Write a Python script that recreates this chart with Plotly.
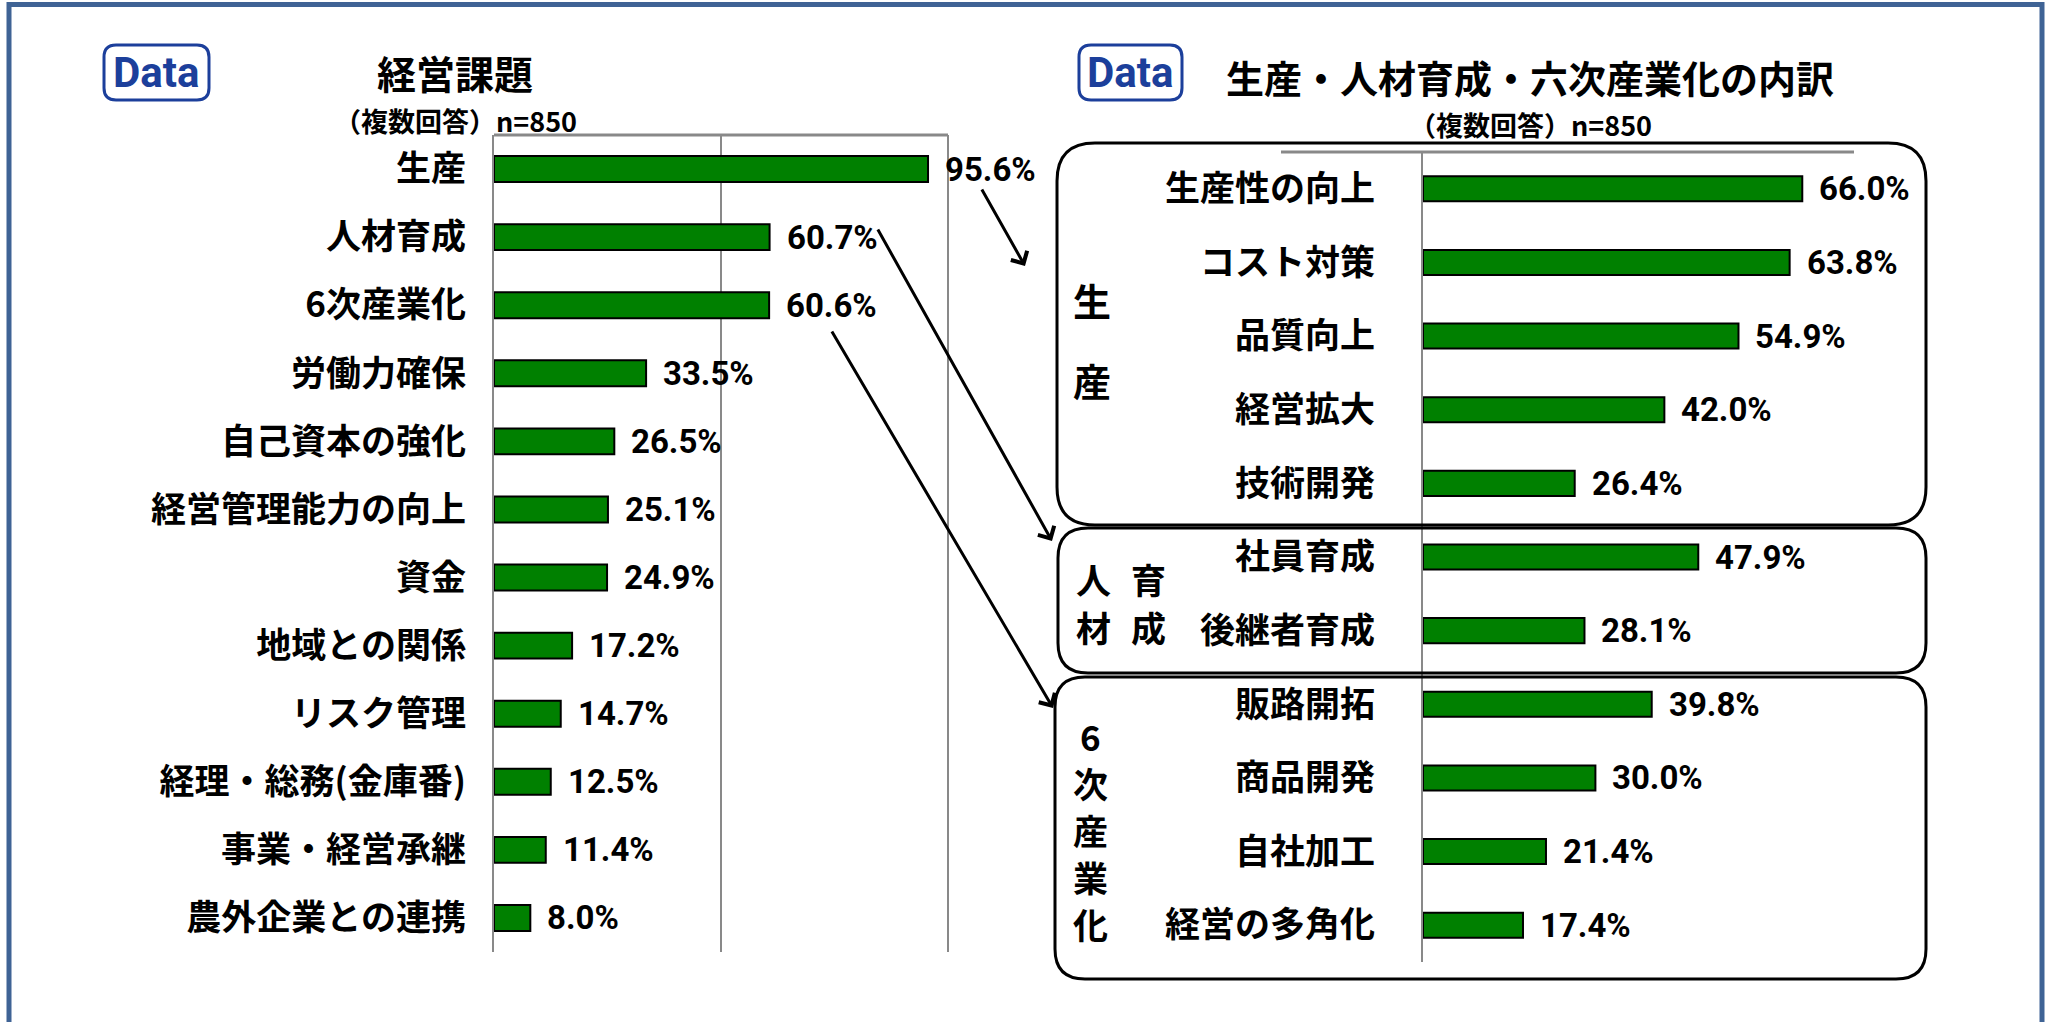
import plotly.graph_objects as go

W, H = 2047, 1022

# ---------------- data ----------------
left_categories = ["生産", "人材育成", "6次産業化", "労働力確保", "自己資本の強化",
                   "経営管理能力の向上", "資金", "地域との関係", "リスク管理",
                   "経理・総務(金庫番)", "事業・経営承継", "農外企業との連携"]
left_values = [95.6, 60.7, 60.6, 33.5, 26.5, 25.1, 24.9, 17.2, 14.7, 12.5, 11.4, 8.0]

right_categories = ["生産性の向上", "コスト対策", "品質向上", "経営拡大", "技術開発",
                    "社員育成", "後継者育成",
                    "販路開拓", "商品開発", "自社加工", "経営の多角化"]
right_values = [66.0, 63.8, 54.9, 42.0, 26.4, 47.9, 28.1, 39.8, 30.0, 21.4, 17.4]

left_title = "経営課題"
right_title = "生産・人材育成・六次産業化の内訳"
subtitle = "（複数回答）n=850"

# ---------------- helpers ----------------
def X(px):
    return px / W

def Y(py):
    return 1 - py / H

JP = "Noto Sans CJK JP"
NUM = "Roboto, sans-serif"
GREEN = "#008000"
GRID = "#898989"
BLUE = "#1C3F9B"
FRAME = "#3F6395"

def rrect_path(x0, y0, x1, y1, r):
    def p(x, y):
        return f"{X(x):.5f},{Y(y):.5f}"
    return (f"M {p(x0 + r, y0)} L {p(x1 - r, y0)} Q {p(x1, y0)} {p(x1, y0 + r)} "
            f"L {p(x1, y1 - r)} Q {p(x1, y1)} {p(x1 - r, y1)} "
            f"L {p(x0 + r, y1)} Q {p(x0, y1)} {p(x0, y1 - r)} "
            f"L {p(x0, y0 + r)} Q {p(x0, y0)} {p(x0 + r, y0)} Z")

fig = go.Figure()

fig.add_trace(go.Bar(
    y=left_categories, x=left_values, orientation="h", width=0.38,
    marker=dict(color=GREEN, line=dict(color="black", width=2)),
    xaxis="x", yaxis="y", hoverinfo="skip", showlegend=False))

fig.add_trace(go.Bar(
    y=right_categories, x=right_values, orientation="h", width=0.34,
    marker=dict(color=GREEN, line=dict(color="black", width=2)),
    xaxis="x2", yaxis="y2", hoverinfo="skip", showlegend=False))

annotations = []
# value labels
for c, v in zip(left_categories, left_values):
    annotations.append(dict(x=v, y=c, xref="x", yref="y", text=f"{v:.1f}%",
                            showarrow=False, xanchor="left", yanchor="middle", xshift=15,
                            font=dict(family=NUM, size=33, color="black", weight="bold")))
for c, v in zip(right_categories, right_values):
    annotations.append(dict(x=v, y=c, xref="x2", yref="y2", text=f"{v:.1f}%",
                            showarrow=False, xanchor="left", yanchor="middle", xshift=15,
                            font=dict(family=NUM, size=33, color="black", weight="bold")))

# titles
annotations += [
    dict(x=X(455), y=Y(72), xref="paper", yref="paper", text=left_title, showarrow=False,
         xanchor="center", yanchor="middle", font=dict(family=JP, size=39, color="black", weight="bold")),
    dict(x=X(455), y=Y(121), xref="paper", yref="paper", text=subtitle, showarrow=False,
         xanchor="center", yanchor="middle", font=dict(family=JP, size=27, color="black", weight="bold")),
    dict(x=X(1530), y=Y(76), xref="paper", yref="paper", text=right_title, showarrow=False,
         xanchor="center", yanchor="middle", font=dict(family=JP, size=38, color="black", weight="bold")),
    dict(x=X(1530), y=Y(124), xref="paper", yref="paper", text=subtitle, showarrow=False,
         xanchor="center", yanchor="middle", font=dict(family=JP, size=27, color="black", weight="bold")),
    dict(x=X(156), y=Y(73), xref="paper", yref="paper", text="Data", showarrow=False,
         xanchor="center", yanchor="middle", font=dict(family=NUM, size=42, color=BLUE, weight="bold")),
    dict(x=X(1130), y=Y(73), xref="paper", yref="paper", text="Data", showarrow=False,
         xanchor="center", yanchor="middle", font=dict(family=NUM, size=42, color=BLUE, weight="bold")),
]

# group labels inside the rounded boxes (vertical writing, one glyph per text)
group_chars = [("生", 1092, 299, 38), ("産", 1092, 379, 38),
               ("人", 1093, 578, 35), ("材", 1093, 626, 35),
               ("育", 1148, 578, 35), ("成", 1148, 626, 35),
               ("6", 1090, 735, 35), ("次", 1090, 782, 35), ("産", 1090, 829, 35),
               ("業", 1090, 876, 35), ("化", 1090, 923, 35)]
for ch, cx, cy, sz in group_chars:
    annotations.append(dict(x=X(cx), y=Y(cy), xref="paper", yref="paper", text=ch, showarrow=False,
                            xanchor="center", yanchor="middle", borderpad=0,
                            font=dict(family=JP, size=sz, color="black", weight="bold")))

# connector arrows (head position, tail offset in px)
for hx, hy, tx, ty in [(1025, 266, 981, 188), (1052, 541, 877, 228), (1053, 708, 831, 330)]:
    annotations.append(dict(x=X(hx), y=Y(hy), xref="paper", yref="paper", text="",
                            showarrow=True, ax=tx - hx, ay=ty - hy, axref="pixel", ayref="pixel",
                            arrowhead=4, arrowsize=1.2, arrowwidth=3, arrowcolor="black", standoff=0))

shapes = [
    # outer frame
    dict(type="rect", xref="paper", yref="paper", x0=X(9), x1=X(2042), y0=Y(4.5), y1=Y(1040),
         line=dict(color=FRAME, width=5), fillcolor="rgba(0,0,0,0)"),
    # Data boxes
    dict(type="path", xref="paper", yref="paper", path=rrect_path(104, 45, 209, 100, 12),
         line=dict(color=BLUE, width=3)),
    dict(type="path", xref="paper", yref="paper", path=rrect_path(1079, 45, 1182, 100, 12),
         line=dict(color=BLUE, width=3)),
    # left plot frame lines
    dict(type="line", xref="x domain", yref="y domain", x0=0, x1=1, y0=1, y1=1,
         line=dict(color=GRID, width=3)),
    dict(type="line", xref="x domain", yref="y domain", x0=1, x1=1, y0=0, y1=1,
         line=dict(color=GRID, width=2)),
    # right top gray line
    dict(type="line", xref="paper", yref="paper", x0=X(1281), x1=X(1854), y0=Y(152), y1=Y(152),
         line=dict(color=GRID, width=3)),
    # rounded group boxes
    dict(type="path", xref="paper", yref="paper", path=rrect_path(1057, 143, 1926, 525, 38),
         line=dict(color="black", width=3)),
    dict(type="path", xref="paper", yref="paper", path=rrect_path(1058, 528, 1926, 673, 30),
         line=dict(color="black", width=3)),
    dict(type="path", xref="paper", yref="paper", path=rrect_path(1055, 677, 1926, 979, 30),
         line=dict(color="black", width=3)),
]

fig.update_layout(
    width=W, height=H, autosize=False,
    margin=dict(l=0, r=0, t=0, b=0),
    paper_bgcolor="white", plot_bgcolor="rgba(0,0,0,0)",
    showlegend=False,
    xaxis=dict(domain=[X(494), X(948)], range=[0, 100], dtick=50, showgrid=True,
               gridcolor=GRID, gridwidth=2, showticklabels=False, zeroline=False,
               showline=False, ticks="", fixedrange=True),
    yaxis=dict(domain=[Y(952), Y(135)], type="category", autorange="reversed",
               showline=True, linecolor=GRID, linewidth=2, ticks="", showgrid=False,
               ticklabelstandoff=19,
               tickfont=dict(family=JP, size=35, color="black", weight="bold")),
    xaxis2=dict(domain=[X(1423), X(1854)], range=[0, 75], showgrid=False,
                showticklabels=False, zeroline=False, showline=False, ticks="", anchor="y2"),
    yaxis2=dict(domain=[Y(962), Y(152)], type="category", autorange="reversed", anchor="x2",
                showline=True, linecolor=GRID, linewidth=2, ticks="", showgrid=False,
                ticklabelstandoff=39,
                tickfont=dict(family=JP, size=35, color="black", weight="bold")),
    annotations=annotations,
    shapes=shapes,
)

# remove the default 8px page margin so the figure sits at the window's top-left corner
fig.write_html("out.html",
               config={"displayModeBar": False, "staticPlot": True},
               post_script="document.body.style.margin='0';document.body.style.overflow='hidden';")
